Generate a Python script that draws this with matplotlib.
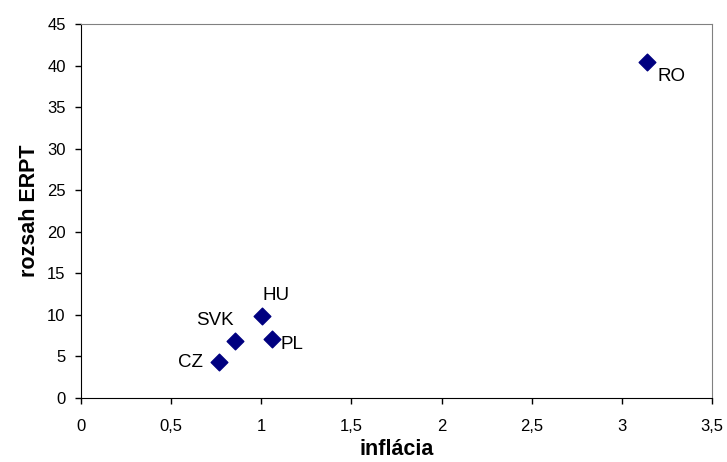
import matplotlib
matplotlib.use("Agg")
import matplotlib.pyplot as plt
from matplotlib.ticker import FuncFormatter

plt.rcParams['font.family'] = ['Liberation Sans', 'DejaVu Sans']

countries = ["CZ", "SVK", "HU", "PL", "RO"]
inflation = [0.765, 0.855, 1.005, 1.06, 3.14]
erpt = [4.3, 6.9, 9.85, 7.1, 40.4]
# label offsets in pixels, with alignment
label_pos = {
    "CZ": (-16, 0, "right"),
    "SVK": (-20, 20, "center"),
    "HU": (14, 21, "center"),
    "PL": (20, -6, "center"),
    "RO": (24, -14, "center"),
}

fig = plt.figure(figsize=(7.27, 4.62), dpi=100)
ax = fig.add_axes([81/727, 1 - 398/462, (712-81)/727, (398-24)/462])

ax.scatter(inflation, erpt, marker="D", s=72, color="#000080", zorder=3)

for name, x, y in zip(countries, inflation, erpt):
    dx, dy, ha = label_pos[name]
    ax.annotate(name, (x, y), xytext=(dx, dy), textcoords="offset pixels",
                ha=ha, va="center", fontsize=13.5, color="black")

ax.set_xlim(0, 3.5)
ax.set_ylim(0, 45)
ax.set_xticks([0, 0.5, 1, 1.5, 2, 2.5, 3, 3.5])
ax.set_yticks(range(0, 50, 5))
ax.xaxis.set_major_formatter(FuncFormatter(lambda v, p: f"{v:g}".replace(".", ",")))

ax.tick_params(direction="out", length=4, width=1, labelsize=12)
ax.tick_params(axis="x", pad=11)
ax.tick_params(axis="y", pad=7)
ax.spines["left"].set_color("black")
ax.spines["bottom"].set_color("black")
ax.spines["top"].set_color("#808080")
ax.spines["right"].set_color("#808080")

ax.set_xlabel("inflácia", fontsize=15.5, fontweight="bold", labelpad=4)
ax.set_ylabel("rozsah ERPT", fontsize=15.5, fontweight="bold", labelpad=5)

fig.savefig("out.png", dpi=100)
